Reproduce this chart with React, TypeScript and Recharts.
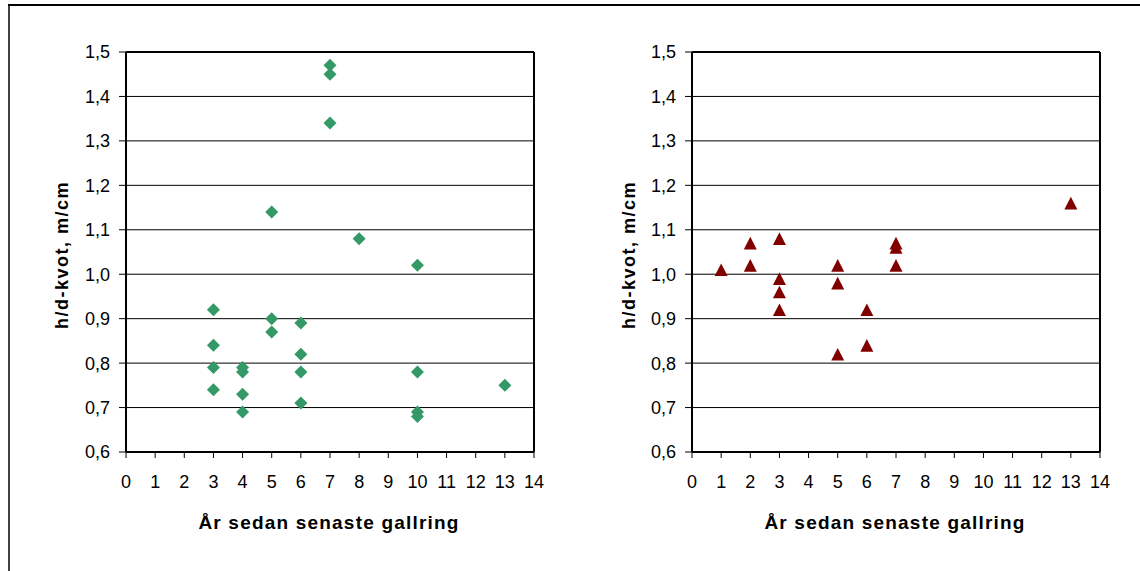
import React from 'react';
import { ScatterChart, Scatter, XAxis, YAxis, CartesianGrid, ReferenceLine } from 'recharts';

const leftX = [3, 3, 3, 3, 4, 4, 4, 4, 5, 5, 5, 6, 6, 6, 6, 7, 7, 7, 8, 10, 10, 10, 10, 13];
const leftY = [0.92, 0.84, 0.79, 0.74, 0.79, 0.78, 0.73, 0.69, 1.14, 0.9, 0.87, 0.89, 0.82, 0.78, 0.71, 1.47, 1.45, 1.34, 1.08, 1.02, 0.78, 0.69, 0.68, 0.75];

const rightX = [1, 2, 2, 3, 3, 3, 3, 5, 5, 5, 6, 6, 7, 7, 7, 13];
const rightY = [1.01, 1.07, 1.02, 1.08, 0.99, 0.96, 0.92, 1.02, 0.98, 0.82, 0.92, 0.84, 1.07, 1.06, 1.02, 1.16];

const xTicks = [0, 1, 2, 3, 4, 5, 6, 7, 8, 9, 10, 11, 12, 13, 14];
const yTicks = [0.6, 0.7, 0.8, 0.9, 1.0, 1.1, 1.2, 1.3, 1.4, 1.5];

const yTitle = 'h/d-kvot, m/cm';
const xTitle = 'År sedan senaste gallring';

const leftData = leftX.map((x, i) => ({ x, y: leftY[i] }));
const rightData = rightX.map((x, i) => ({ x, y: rightY[i] }));

const FONT = "Arial, 'Liberation Sans', sans-serif";

const Diamond = (p: any) => {
  const { cx, cy } = p;
  const r = 6.5;
  return (
    <polygon
      points={`${cx},${cy - r} ${cx + r},${cy} ${cx},${cy + r} ${cx - r},${cy}`}
      fill="#339966"
    />
  );
};

const Triangle = (p: any) => {
  const { cx, cy } = p;
  return (
    <polygon
      points={`${cx},${cy - 6.3} ${cx + 6.5},${cy + 6.3} ${cx - 6.5},${cy + 6.3}`}
      fill="#800000"
    />
  );
};

const fmtY = (v: number) => v.toFixed(1).replace('.', ',');

function Panel({ data, shape }: { data: { x: number; y: number }[]; shape: any }) {
  return (
    <ScatterChart
      width={560}
      height={571}
      margin={{ top: 52, right: 26, bottom: 79, left: 66 }}
      style={{ fontFamily: FONT }}
    >
      <CartesianGrid vertical={false} stroke="#000" strokeWidth={1} />
      <XAxis
        type="number"
        dataKey="x"
        domain={[0, 14]}
        ticks={xTicks}
        interval={0}
        height={40}
        tickSize={6}
        tickMargin={17}
        axisLine={{ stroke: '#000', strokeWidth: 2 }}
        tickLine={{ stroke: '#000' }}
        tick={{ fill: '#000', fontSize: 18, fontFamily: FONT }}
        allowDataOverflow
      />
      <YAxis
        type="number"
        dataKey="y"
        domain={[0.6, 1.5]}
        ticks={yTicks}
        interval={0}
        width={60}
        tickSize={7}
        tickMargin={9}
        tickFormatter={fmtY}
        axisLine={{ stroke: '#000', strokeWidth: 2 }}
        tickLine={{ stroke: '#000' }}
        tick={{ fill: '#000', fontSize: 18, fontFamily: FONT }}
        allowDataOverflow
      />
      <ReferenceLine y={1.5} stroke="#000" strokeWidth={2} />
      <ReferenceLine x={14} stroke="#000" strokeWidth={2} />
      <Scatter data={data} shape={shape} isAnimationActive={false} />
    </ScatterChart>
  );
}

export default function App() {
  return (
    <div
      style={{
        position: 'absolute',
        left: 0,
        top: 0,
        width: 1140,
        height: 571,
        background: '#fff',
        overflow: 'hidden',
      }}
    >
      <div style={{ position: 'absolute', left: 0, top: 0 }}>
        <Panel data={leftData} shape={Diamond} />
      </div>
      <div style={{ position: 'absolute', left: 566, top: 0 }}>
        <Panel data={rightData} shape={Triangle} />
      </div>
      <svg
        width={1140}
        height={571}
        style={{ position: 'absolute', left: 0, top: 0, pointerEvents: 'none' }}
      >
        <line x1={8} y1={5} x2={1140} y2={5} stroke="#000" strokeWidth={2} />
        <line x1={9} y1={4} x2={9} y2={571} stroke="#000" strokeWidth={1.5} />
        <g fontFamily={FONT} fontWeight="bold" fontSize={19} fill="#000">
          <text x={329} y={529} textAnchor="middle" letterSpacing={1.2}>{xTitle}</text>
          <text x={895} y={529} textAnchor="middle" letterSpacing={1.2}>{xTitle}</text>
          <text transform="translate(68,255) rotate(-90)" textAnchor="middle" fontSize={18} letterSpacing={1.5}>{yTitle}</text>
          <text transform="translate(635,255) rotate(-90)" textAnchor="middle" fontSize={18} letterSpacing={1.5}>{yTitle}</text>
        </g>
      </svg>
    </div>
  );
}
